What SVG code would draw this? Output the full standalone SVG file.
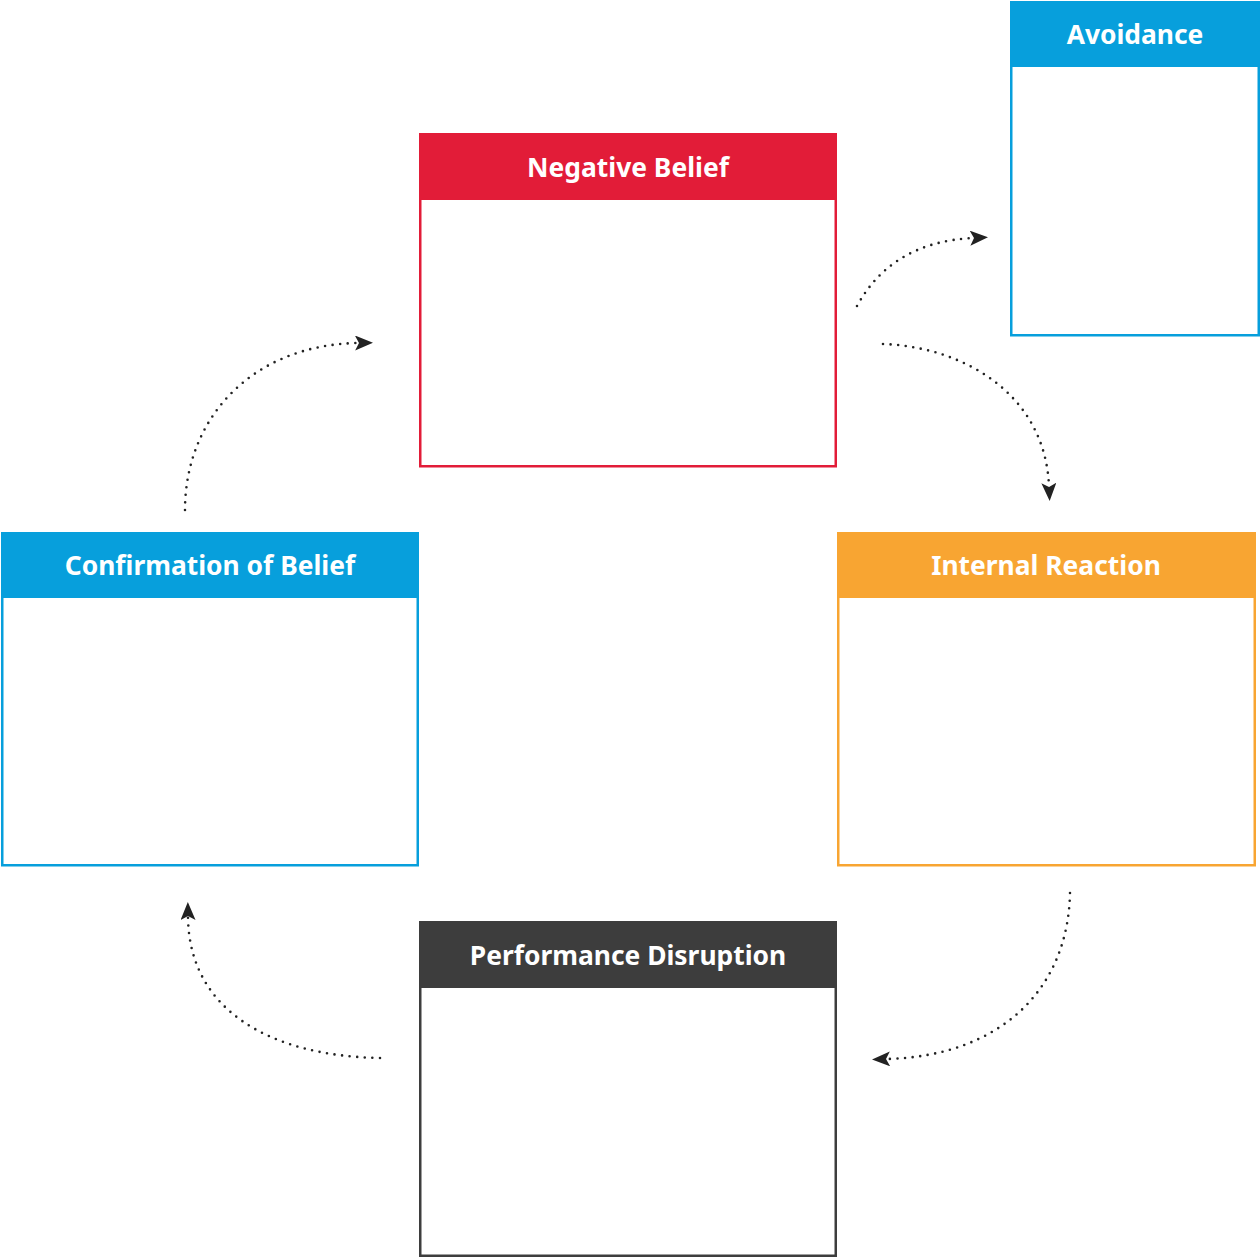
<svg xmlns="http://www.w3.org/2000/svg" width="1260" height="1258" viewBox="0 0 1260 1258">
<style>
.box{fill:#fff;stroke-width:2.5}
.title{fill:#fff;font-family:"Noto Sans","Open Sans",sans-serif;font-weight:700;font-size:26.4px;text-anchor:middle;dominant-baseline:central}
.conn{fill:none;stroke:#222;stroke-width:2.6;stroke-linecap:round;stroke-dasharray:0 7.6}
.red{stroke:#E21C38}.redf{fill:#E21C38}
.blue{stroke:#079FDC}.bluef{fill:#079FDC}
.orange{stroke:#F8A532}.orangef{fill:#F8A532}
.dark{stroke:#3D3D3D}.darkf{fill:#3D3D3D}
</style>
<defs>
<marker id="ah" markerUnits="userSpaceOnUse" markerWidth="22" markerHeight="16" refX="3" refY="7.5" orient="auto">
<path d="M0,0 L18,7.5 L0,15 L4,7.5 z" fill="#222"/>
</marker>
</defs>
<rect width="1260" height="1258" fill="#fff"/>
<g id="negative-belief">
<rect class="box red" x="420.25" y="134.25" width="415.5" height="332"/>
<rect class="redf" x="419" y="133" width="418" height="67"/>
<text class="title" x="628" y="167">Negative Belief</text>
</g>
<g id="avoidance">
<rect class="box blue" x="1011.25" y="2.25" width="247.5" height="333"/>
<rect class="bluef" x="1010" y="1" width="250" height="66"/>
<text class="title" x="1135" y="34">Avoidance</text>
</g>
<g id="confirmation-of-belief">
<rect class="box blue" x="2.25" y="533.25" width="415.5" height="332"/>
<rect class="bluef" x="1" y="532" width="418" height="66"/>
<text class="title" x="210" y="565">Confirmation of Belief</text>
</g>
<g id="internal-reaction">
<rect class="box orange" x="838.25" y="533.25" width="416.5" height="332"/>
<rect class="orangef" x="837" y="532" width="419" height="66"/>
<text class="title" x="1046" y="565">Internal Reaction</text>
</g>
<g id="performance-disruption">
<rect class="box dark" x="420.25" y="922.25" width="415.5" height="333.5"/>
<rect class="darkf" x="419" y="921" width="418" height="67"/>
<text class="title" x="628" y="955">Performance Disruption</text>
</g>
<g id="connectors">
<path class="conn" d="M857,306 Q892,242 973,238" marker-end="url(#ah)"/>
<path class="conn" d="M883,344 C965,347 1045,395 1049,486" marker-end="url(#ah)"/>
<path class="conn" d="M1070,893 C1068,990 1000,1056 887,1059" marker-end="url(#ah)"/>
<path class="conn" d="M380,1058 C270,1056 189,1010 188,917" marker-end="url(#ah)"/>
<path class="conn" d="M185,510 C185,420 250,345 358,343" marker-end="url(#ah)"/>
</g>
</svg>
